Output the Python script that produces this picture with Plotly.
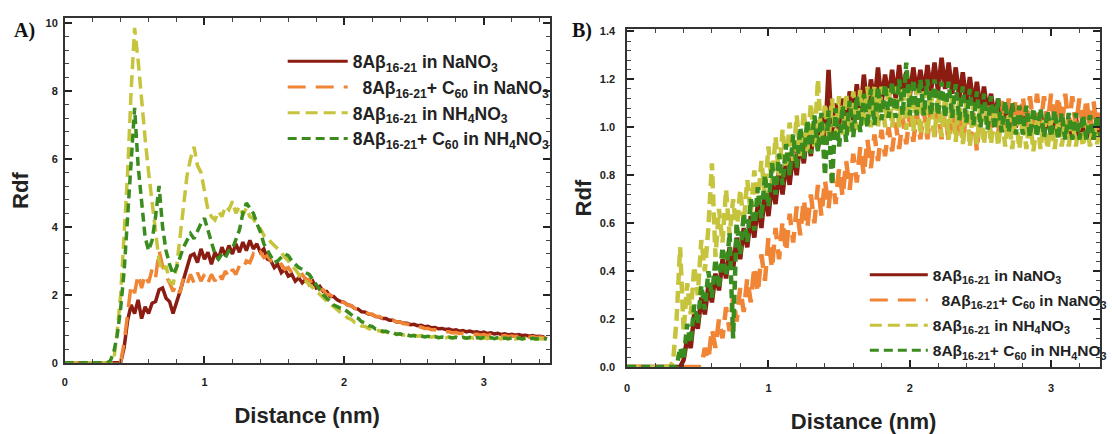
import plotly.graph_objects as go

# ---------------- data ----------------
STEP = 0.025  # sampling step of the distance axis (nm)
dist_a = [round(i * STEP, 3) for i in range(139)]   # 0 .. 3.45 nm
dist_b = [round(i * STEP, 3) for i in range(135)]   # 0 .. 3.35 nm

series_names = [
    "<b>8Aβ<sub>16-21</sub> in NaNO<sub>3</sub></b>",
    "<b>  8Aβ<sub>16-21</sub>+ C<sub>60</sub> in NaNO<sub>3</sub></b>",
    "<b>8Aβ<sub>16-21</sub> in NH<sub>4</sub>NO<sub>3</sub></b>",
    "<b>8Aβ<sub>16-21</sub>+ C<sub>60</sub> in NH<sub>4</sub>NO<sub>3</sub></b>",
]

# Panel A
rdf_a_nano3 = [0,0,0,0,0,0,0,0,0,0,
    0,0,0,0,0,0,0,0.45,1.25,1.7,
    1.45,1.85,1.3,1.65,1.45,1.75,1.8,2.15,2.2,1.9,
    1.8,1.45,1.75,2.1,2.45,2.8,3.15,3.2,2.95,3.35,
    3.05,3.25,2.9,3.25,3.05,3.4,3.15,3.45,3.2,3.5,
    3.25,3.55,3.3,3.6,3.35,3.5,3.25,3.35,3.05,3.0,
    2.8,2.9,2.65,2.75,2.55,2.6,2.4,2.5,2.35,2.45,
    2.3,2.4,2.2,2.25,2.1,2.1,1.95,1.95,1.85,1.8,
    1.78,1.7,1.68,1.6,1.58,1.5,1.49,1.43,1.42,1.36,
    1.35,1.3,1.3,1.25,1.25,1.2,1.2,1.16,1.16,1.12,
    1.13,1.09,1.1,1.06,1.07,1.03,1.04,1.0,1.01,0.98,
    0.99,0.95,0.97,0.93,0.95,0.91,0.93,0.9,0.91,0.88,
    0.9,0.86,0.88,0.85,0.87,0.83,0.85,0.82,0.84,0.81,
    0.83,0.8,0.81,0.78,0.8,0.77,0.78,0.76,0.7]

rdf_a_nano3_c60 = [0,0,0,0,0,0,0,0,0,0,
    0,0,0,0,0,0,0,0.6,1.4,2.3,
    2.05,2.6,2.2,2.6,2.35,2.75,2.5,3.3,2.85,2.55,
    2.35,2.1,2.3,2.05,2.5,2.3,2.6,2.35,2.65,2.4,
    2.6,2.35,2.6,2.4,2.65,2.45,2.7,2.5,2.75,2.6,
    2.85,2.75,3.0,2.95,3.2,3.1,3.25,3.1,3.15,3.0,
    3.0,2.85,2.9,2.75,2.8,2.65,2.7,2.55,2.6,2.45,
    2.45,2.3,2.3,2.15,2.15,2.0,2.0,1.9,1.88,1.8,
    1.77,1.7,1.68,1.6,1.59,1.52,1.5,1.44,1.43,1.37,
    1.36,1.31,1.31,1.26,1.25,1.2,1.2,1.15,1.14,1.1,
    1.1,1.05,1.05,1.01,1.01,0.97,0.97,0.94,0.94,0.91,
    0.91,0.88,0.89,0.86,0.87,0.84,0.85,0.83,0.84,0.81,
    0.83,0.8,0.82,0.79,0.81,0.78,0.8,0.77,0.79,0.77,
    0.78,0.76,0.77,0.75,0.77,0.74,0.76,0.74,0.72]

rdf_a_nh4no3 = [0,0,0,0,0,0,0,0,0,0,
    0,0,0,0,0.05,0.9,2.0,3.6,5.6,8.0,
    9.85,8.9,7.6,6.6,5.6,4.7,3.9,3.0,2.7,2.85,
    2.4,2.3,2.8,3.6,4.6,5.5,6.0,6.35,5.8,5.6,
    5.0,4.5,4.3,4.2,4.45,4.3,4.6,4.5,4.75,4.4,
    4.6,4.35,4.55,4.3,4.25,4.0,3.95,3.75,3.7,3.55,
    3.45,3.35,3.25,3.1,3.0,2.85,2.75,2.6,2.5,2.4,
    2.3,2.2,2.1,2.0,1.9,1.82,1.72,1.65,1.55,1.48,
    1.42,1.32,1.28,1.19,1.17,1.08,1.07,1.0,1.0,0.94,
    0.95,0.9,0.91,0.86,0.88,0.83,0.85,0.81,0.83,0.79,
    0.81,0.78,0.8,0.76,0.79,0.75,0.78,0.74,0.77,0.74,
    0.76,0.73,0.76,0.72,0.75,0.72,0.75,0.72,0.74,0.71,
    0.74,0.71,0.74,0.7,0.73,0.7,0.73,0.7,0.73,0.7,
    0.72,0.7,0.72,0.69,0.72,0.69,0.71,0.69,0.69]

rdf_a_nh4no3_c60 = [0,0,0,0,0,0,0,0,0,0,
    0,0,0,0.05,0.3,0.8,1.6,2.7,4.4,6.2,
    7.5,5.8,4.6,3.7,3.3,3.6,4.3,5.2,4.0,3.3,
    2.9,2.6,2.8,3.1,3.4,3.6,3.8,3.65,3.9,4.1,
    4.25,3.9,3.6,3.2,3.05,3.2,3.1,3.3,3.35,3.6,
    3.9,4.4,4.7,4.55,4.4,4.1,3.85,3.5,3.3,3.1,
    2.95,3.0,3.1,3.2,3.15,3.0,2.9,2.8,2.75,2.65,
    2.6,2.45,2.3,2.15,2.0,1.9,1.8,1.7,1.65,1.6,
    1.58,1.49,1.43,1.34,1.31,1.21,1.17,1.09,1.07,0.99,
    0.99,0.93,0.93,0.88,0.89,0.84,0.85,0.81,0.82,0.79,
    0.8,0.77,0.79,0.76,0.78,0.75,0.77,0.74,0.76,0.74,
    0.75,0.73,0.75,0.72,0.75,0.72,0.74,0.72,0.74,0.72,
    0.74,0.71,0.74,0.71,0.74,0.71,0.73,0.71,0.73,0.71,
    0.73,0.7,0.73,0.7,0.72,0.7,0.72,0.7,0.7]

# Panel B
rdf_b_nano3 = [0,0,0,0,0,0,0,0,0,0,
    0,0,0,0,0,0,0.03,0.12,0.08,0.22,
    0.16,0.29,0.22,0.34,0.27,0.39,0.32,0.45,0.37,0.5,
    0.41,0.54,0.45,0.58,0.5,0.63,0.54,0.68,0.58,0.73,
    0.63,0.77,0.68,0.82,0.72,0.86,0.76,0.9,0.8,0.95,
    0.85,0.98,0.88,1.02,0.91,1.05,0.93,1.24,0.96,1.1,
    0.98,1.12,1.0,1.15,1.03,1.18,1.05,1.22,1.07,1.2,
    1.1,1.25,1.1,1.22,1.12,1.24,1.12,1.26,1.13,1.23,
    1.13,1.25,1.14,1.24,1.14,1.26,1.15,1.27,1.15,1.29,
    1.16,1.27,1.14,1.25,1.12,1.23,1.1,1.21,1.09,1.19,
    1.07,1.17,1.06,1.14,1.04,1.12,1.02,1.1,1.01,1.09,
    1.0,1.08,0.99,1.07,0.98,1.06,0.98,1.06,0.97,1.05,
    0.97,1.05,0.96,1.04,0.96,1.04,0.95,1.04,0.95,1.03,
    0.95,1.03,0.95,1.03,0.96]

rdf_b_nano3_c60 = [0,0,0,0,0,0,0,0,0,0,
    0,0,0,0,0,0,0,0,0,0,
    0,0,0.08,0.03,0.16,0.08,0.2,0.12,0.25,0.15,
    0.29,0.19,0.33,0.23,0.37,0.27,0.42,0.31,0.47,0.36,
    0.54,0.41,0.58,0.45,0.61,0.48,0.64,0.52,0.67,0.55,
    0.7,0.58,0.72,0.6,0.76,0.63,0.78,0.66,0.81,0.68,
    0.83,0.71,0.86,0.74,0.89,0.77,0.92,0.8,0.95,0.83,
    0.97,0.86,0.99,0.88,1.0,0.9,1.02,0.91,1.04,0.93,
    1.05,0.94,1.06,0.95,1.07,0.95,1.08,0.96,1.08,0.95,
    1.07,0.94,1.07,0.95,1.06,0.93,1.07,0.94,1.06,0.9,
    1.08,0.95,1.09,0.96,1.1,0.97,1.11,0.98,1.12,0.99,
    1.12,1.0,1.13,1.0,1.13,1.01,1.14,1.01,1.13,1.01,
    1.14,1.01,1.13,1.0,1.14,1.0,1.13,1.0,1.12,0.99,
    1.12,0.99,1.11,0.99,1.1]

rdf_b_nh4no3 = [0,0,0,0,0,0,0,0,0,0,
    0,0,0,0.02,0.2,0.5,0.15,0.35,0.22,0.42,
    0.3,0.53,0.4,0.58,0.85,0.46,0.66,0.52,0.74,0.55,
    0.7,0.56,0.74,0.6,0.78,0.64,0.82,0.68,0.86,0.72,
    0.92,0.76,0.96,0.8,0.99,0.83,1.02,0.86,1.05,0.88,
    1.07,0.9,1.1,0.92,1.2,0.93,1.1,0.95,1.12,0.96,
    1.13,0.97,1.14,0.98,1.15,0.99,1.16,1.0,1.17,1.0,
    1.17,1.0,1.17,1.0,1.17,1.0,1.17,1.0,1.17,0.99,
    1.16,0.98,1.16,0.97,1.15,0.97,1.15,0.96,1.14,0.96,
    1.13,0.95,1.13,0.94,1.12,0.93,1.11,0.92,1.1,0.93,
    1.09,0.93,1.08,0.93,1.07,0.92,1.06,0.92,1.05,0.91,
    1.05,0.91,1.04,0.91,1.04,0.9,1.04,0.91,1.03,0.91,
    1.03,0.91,1.03,0.92,1.03,0.92,1.03,0.92,1.02,0.92,
    1.02,0.92,1.02,0.93,1.01]

rdf_b_nh4no3_c60 = [0,0,0,0,0,0,0,0,0,0,
    0,0,0,0,0,0.08,0.03,0.18,0.1,0.26,
    0.18,0.34,0.24,0.4,0.29,0.45,0.33,0.5,0.38,0.56,
    0.12,0.6,0.47,0.64,0.52,0.7,0.57,0.75,0.62,0.8,
    0.67,0.85,0.72,0.89,0.76,0.93,0.8,0.97,0.83,1.0,
    0.87,1.03,0.89,1.05,0.9,1.06,0.8,1.07,0.76,1.08,
    0.92,1.09,0.94,1.11,0.96,1.13,0.98,1.14,1.0,1.16,
    1.01,1.17,1.03,1.18,1.04,1.19,1.04,1.2,1.05,1.27,
    1.05,1.2,1.05,1.2,1.05,1.2,1.05,1.2,1.05,1.19,
    1.04,1.19,1.04,1.18,1.03,1.17,1.02,1.16,1.01,1.15,
    1.0,1.14,0.99,1.13,0.99,1.12,0.98,1.11,0.98,1.1,
    0.97,1.09,0.97,1.09,0.96,1.08,0.96,1.08,0.96,1.07,
    0.96,1.07,0.95,1.06,0.95,1.06,0.95,1.06,0.95,1.05,
    0.95,1.05,0.95,1.05,0.96]

series_a = [rdf_a_nano3, rdf_a_nano3_c60, rdf_a_nh4no3, rdf_a_nh4no3_c60]
series_b = [rdf_b_nano3, rdf_b_nano3_c60, rdf_b_nh4no3, rdf_b_nh4no3_c60]
for s in series_a:
    assert len(s) == len(dist_a), len(s)
for s in series_b:
    assert len(s) == len(dist_b), len(s)

# ---------------- styling ----------------
W, H = 1112, 434
colors = ["#8a1c12", "#f08536", "#c6c43c", "#3a8c1e"]
dashes = ["solid", "18px,10px", "12px,6px", "9px,5px"]
FONT = "Liberation Sans"
TXT = "#222222"

fig = go.Figure()
panels = [("x", "y", "legend", dist_a, series_a, 3.5),
          ("x2", "y2", "legend2", dist_b, series_b, 4.5)]
for xa, ya, leg, dist, series, lw in panels:
    for k in range(4):
        # data curve
        fig.add_trace(go.Scatter(
            x=dist, y=series[k], mode="lines", name=series_names[k],
            line=dict(color=colors[k], width=lw, dash=dashes[k]),
            xaxis=xa, yaxis=ya, legend=leg, legendgroup=f"{leg}{k}",
            showlegend=False))
    for k in range(4):
        # legend sample (thinner line, like the reference key)
        fig.add_trace(go.Scatter(
            x=[None], y=[None], mode="lines", name=series_names[k],
            line=dict(color=colors[k], width=3, dash=dashes[k]),
            xaxis=xa, yaxis=ya, legend=leg, legendgroup=f"{leg}{k}",
            showlegend=True, hoverinfo="skip"))

tickfont = dict(family=FONT, size=11, color=TXT, weight="bold")
titlefont = dict(family=FONT, size=22, color=TXT, weight="bold")

def axis_common(**kw):
    d = dict(showline=True, linecolor="#333333", linewidth=1.5, mirror="allticks",
             ticks="inside", ticklen=7, tickwidth=2, tickcolor="#222222",
             showgrid=False, zeroline=False, tickfont=tickfont,
             minor=dict(ticks="inside", ticklen=4, tickwidth=1, tickcolor="#444444",
                        showgrid=False))
    d.update(kw)
    return d

ax_x = axis_common(domain=[62.5 / W, 553 / W], range=[0, 3.47], dtick=1, anchor="y",
                   ticklabelstandoff=8,
                   title=dict(text="Distance (nm)", font=titlefont, standoff=21))
ax_x["minor"]["dtick"] = 0.2
ax_y = axis_common(domain=[(H - 372.5) / H, (H - 15) / H], range=[0, 10.13], dtick=2,
                   anchor="x", ticklabelstandoff=3,
                   title=dict(text="Rdf", font=titlefont, standoff=11))
ax_y["minor"]["dtick"] = 0.4
ax_x2 = axis_common(domain=[631.5 / W, 1110 / W], range=[0, 3.346], dtick=1, anchor="y2",
                    ticklabelstandoff=10,
                    title=dict(text="Distance (nm)", font=titlefont, standoff=25))
ax_x2["minor"]["dtick"] = 0.2
ax_y2 = axis_common(domain=[(H - 377) / H, (H - 26) / H], range=[0, 1.41], dtick=0.2,
                    tickformat=".1f", anchor="x2", ticklabelstandoff=8,
                    title=dict(text="Rdf", font=titlefont, standoff=2))
ax_y2["minor"]["dtick"] = 0.04

fig.update_layout(
    width=W, height=H, autosize=False,
    margin=dict(l=0, r=0, t=0, b=0),
    paper_bgcolor="white", plot_bgcolor="white",
    xaxis=ax_x, yaxis=ax_y, xaxis2=ax_x2, yaxis2=ax_y2,
    legend=dict(x=283 / W, y=(H - 41) / H, xanchor="left", yanchor="top",
                bgcolor="rgba(0,0,0,0)", font=dict(family=FONT, size=17.5, color=TXT),
                itemwidth=60, tracegroupgap=0),
    legend2=dict(x=872 / W, y=(H - 264) / H, xanchor="left", yanchor="top",
                 bgcolor="rgba(0,0,0,0)", font=dict(family=FONT, size=15.5, color=TXT),
                 itemwidth=58, tracegroupgap=2),
    annotations=[
        dict(text="<b>A)</b>", x=22 / W, y=(H - 28) / H, xref="paper", yref="paper",
             xanchor="center", yanchor="middle", showarrow=False,
             font=dict(family="Liberation Serif", size=20, color="#111")),
        dict(text="<b>B)</b>", x=586 / W, y=(H - 27) / H, xref="paper", yref="paper",
             xanchor="center", yanchor="middle", showarrow=False,
             font=dict(family="Liberation Serif", size=20, color="#111")),
    ],
    showlegend=True,
)

fig.write_html("out.html")
